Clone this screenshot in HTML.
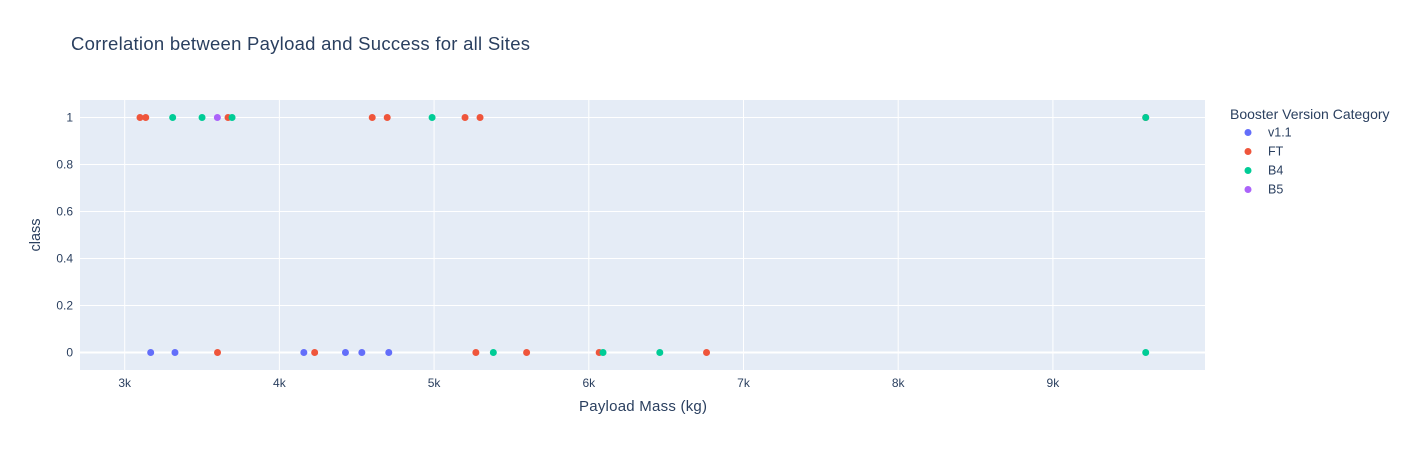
<!DOCTYPE html>
<html><head><meta charset="utf-8"><style>
body{margin:0;background:#fff;font-family:"Liberation Sans",Arial,sans-serif;}
svg text{font-family:"Liberation Sans",Arial,sans-serif;fill:#2a3f5f;}
</style></head><body>
<svg id="chart" width="1424" height="450" xmlns="http://www.w3.org/2000/svg">
<text x="71" y="50" font-size="18.5" textLength="459">Correlation between Payload and Success for all Sites</text>
<rect x="80" y="100" width="1125" height="270" fill="#e5ecf6"/>
<g id="grid"></g>
<g id="points"></g>
<text x="643" y="411" font-size="15" textLength="128" text-anchor="middle">Payload Mass (kg)</text>
<text x="40" y="235" font-size="14.5" text-anchor="middle" transform="rotate(-90 40 235)">class</text>
<g id="legend">
<text x="1230" y="119" font-size="14">Booster Version Category</text>
</g>
</svg>
<script>
const categories=["v1.1","FT","B4","B5"];
const colors=["#636efa","#EF553B","#00cc96","#ab63fa"];
const payloads=[3099,3136,3310,3500,3599,3668,3694,4600,4697,4987,5200,5297,9600,9600,
3168,3325,3600,4158,4228,4427,4533,4707,5270,5383,5598,6067,6092,6459,6761,9600];
const classes=[1,1,1,1,1,1,1,1,1,1,1,1,1,1,
0,0,0,0,0,0,0,0,0,0,0,0,0,0,0,0];
const boosters=["FT","FT","B4","B4","B5","FT","B4","FT","FT","B4","FT","FT","FT","B4",
"v1.1","v1.1","FT","v1.1","FT","v1.1","v1.1","v1.1","FT","B4","FT","FT","B4","B4","FT","B4"];
const xTicks=[3000,4000,5000,6000,7000,8000,9000];
const xTickLabels=["3k","4k","5k","6k","7k","8k","9k"];
const yTicks=[0,0.2,0.4,0.6,0.8,1];
const yTickLabels=["0","0.2","0.4","0.6","0.8","1"];
const NS="http://www.w3.org/2000/svg";
const X=v=>124.7+(v-3000)*0.1547;
const Y=v=>352.5-v*235;
function mk(tag,attrs,parent){const e=document.createElementNS(NS,tag);for(const k in attrs)e.setAttribute(k,attrs[k]);parent.appendChild(e);return e;}
const grid=document.getElementById('grid');
xTicks.forEach((t,i)=>{
 const l=mk('line',{x1:X(t),x2:X(t),y1:100,y2:370,stroke:'#fff','stroke-width':1},grid);
 
 
 const tx=mk('text',{x:X(t),y:387,'font-size':12,'text-anchor':'middle'},grid);
 tx.textContent=xTickLabels[i];
 
 
});
yTicks.forEach((t,i)=>{
 const l=mk('line',{x1:80,x2:1205,y1:Y(t),y2:Y(t),stroke:'#fff','stroke-width':t===0?2:1},grid);
 
 
 const tx=mk('text',{x:73,y:Y(t)+4,'font-size':12,'text-anchor':'end'},grid);
 tx.textContent=yTickLabels[i];
 
 
});
const pts=document.getElementById('points');
payloads.forEach((p,i)=>{
 const c=colors[categories.indexOf(boosters[i])];
 const d=mk('circle',{cx:X(p),cy:Y(classes[i]),r:3.5,fill:c},pts);
 
 
});
const lg=document.getElementById('legend');
categories.forEach((c,i)=>{
 const y=132.5+i*19;
 const d=mk('circle',{cx:1248,cy:y,r:3.5,fill:colors[i]},lg);
 
 
 const t=mk('text',{x:1268,y:y+4,'font-size':12.5},lg);
 t.textContent=c;
 
 
});
</script>
</body></html>
